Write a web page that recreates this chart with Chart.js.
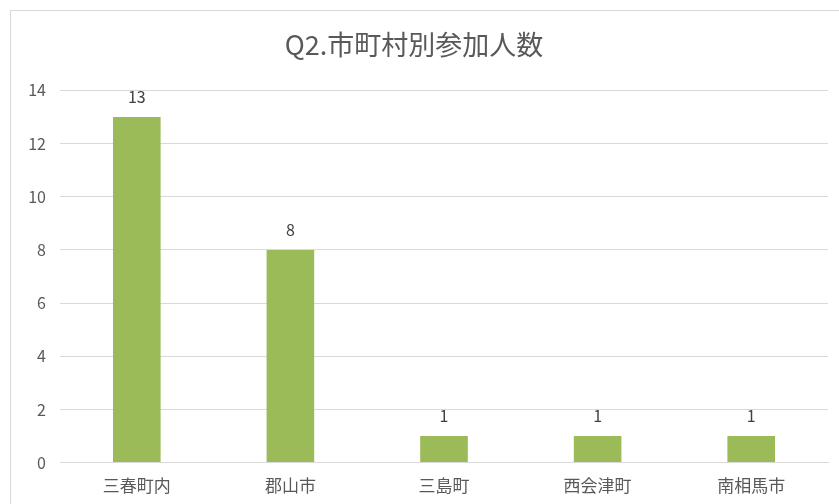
<!DOCTYPE html>
<html>
<head>
<meta charset="utf-8">
<script src="https://cdn.jsdelivr.net/npm/chart.js@4/dist/chart.umd.min.js"></script>
<style>
  html, body { margin: 0; padding: 0; background: #fff; }
  #frame {
    position: absolute; left: 10px; top: 10px; width: 840px; height: 500px;
    border-left: 1px solid #d9d9d9; border-top: 1px solid #d9d9d9;
  }
  #box { position: absolute; left: 0; top: 0; width: 839px; height: 504px; }
</style>
</head>
<body>
<div id="frame"></div>
<div id="box"><canvas id="chart"></canvas></div>
<script>
// data
const titleText = "Q2.市町村別参加人数";
const categories = ["三春町内", "郡山市", "三島町", "西会津町", "南相馬市"];
const counts = [13, 8, 1, 1, 1];
const yMax = 14;
const yStep = 2;

const fontFamily = "'Noto Sans CJK JP', 'Noto Sans', sans-serif";
const textColor = "#595959";

// simple value labels above each bar
const valueLabels = {
  id: "valueLabels",
  afterDatasetsDraw(chart) {
    const ctx = chart.ctx;
    const meta = chart.getDatasetMeta(0);
    ctx.save();
    ctx.font = "16px " + fontFamily;
    ctx.fillStyle = "#404040";
    ctx.textAlign = "center";
    ctx.textBaseline = "middle";
    meta.data.forEach((bar, i) => {
      ctx.fillText(String(counts[i]), bar.x, bar.y - 20);
    });
    ctx.restore();
  }
};

new Chart(document.getElementById("chart"), {
  type: "bar",
  data: {
    labels: categories,
    datasets: [{
      data: counts,
      backgroundColor: "#9bbb59",
      categoryPercentage: 1,
      barPercentage: 0.31
    }]
  },
  options: {
    responsive: true,
    maintainAspectRatio: false,
    animation: false,
    layout: { padding: { left: 0, right: 11, top: 0, bottom: 3 } },
    plugins: {
      legend: { display: false },
      tooltip: { enabled: false },
      title: {
        display: true,
        text: titleText,
        color: textColor,
        font: { family: fontFamily, size: 27, weight: "normal" },
        padding: { top: 29, bottom: 29 }
      }
    },
    scales: {
      x: {
        grid: { display: false },
        border: { display: true, color: "#d9d9d9", width: 1 },
        ticks: { color: textColor, font: { family: fontFamily, size: 17 }, padding: 5 }
      },
      y: {
        min: 0,
        max: yMax,
        afterFit(scale) { scale.width = 60; },
        grid: { color: "#d9d9d9", lineWidth: 1, drawTicks: false },
        border: { display: false },
        ticks: { stepSize: yStep, color: textColor, font: { family: fontFamily, size: 16 }, padding: 14 }
      }
    }
  },
  plugins: [valueLabels]
});
</script>
</body>
</html>
